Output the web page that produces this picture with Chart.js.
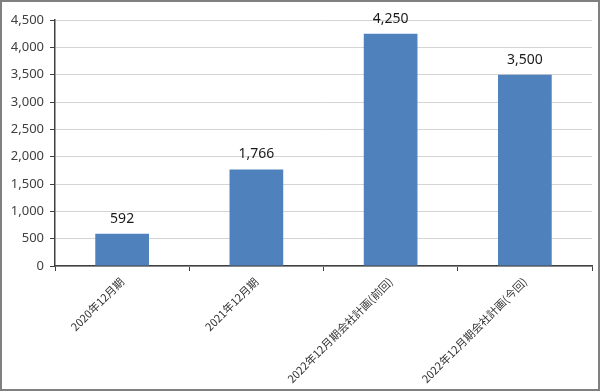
<!DOCTYPE html>
<html><head><meta charset="utf-8">
<script src="https://cdn.jsdelivr.net/npm/chart.js@4/dist/chart.umd.min.js"></script>
<style>html,body{margin:0;padding:0;background:#fff}#wrap{width:600px;height:391px;position:relative}</style>
</head><body><div id="wrap"><canvas id="c" width="600" height="391"></canvas></div>
<script>
const categories = ["2020年12月期","2021年12月期","2022年12月期会社計画(前回)","2022年12月期会社計画(今回)"];
const values = [592, 1766, 4250, 3500];
const yMin = 0, yMax = 4500, yStep = 500;

const fmt = v => v.toLocaleString('en-US');

const labelPlugin = {
  id: 'valLabels',
  afterDatasetsDraw(chart) {
    const ctx = chart.ctx;
    const meta = chart.getDatasetMeta(0);
    ctx.save();
    ctx.font = '14px "Noto Sans", sans-serif';
    ctx.fillStyle = '#1a1a1a';
    ctx.textAlign = 'center';
    ctx.textBaseline = 'bottom';
    meta.data.forEach((bar, i) => {
      ctx.fillText(fmt(values[i]), bar.x, bar.y - 8);
    });
    ctx.restore();
  },
  afterDraw(chart) {
    const ctx = chart.ctx;
    ctx.save();
    ctx.strokeStyle = '#808080';
    ctx.lineWidth = 2;
    ctx.strokeRect(1, 1, chart.width - 2, chart.height - 2);
    ctx.restore();
  }
};

new Chart(document.getElementById('c'), {
  type: 'bar',
  data: {
    labels: categories,
    datasets: [{
      data: values,
      backgroundColor: '#4f81bd',
      borderWidth: 0,
      categoryPercentage: 1.0,
      barPercentage: 0.4
    }]
  },
  options: {
    responsive: false,
    animation: false,
    devicePixelRatio: 1,
    layout: { padding: { top: 20, right: 8, left: 0, bottom: 0 } },
    plugins: { legend: { display: false }, tooltip: { enabled: false } },
    scales: {
      x: {
        grid: { drawOnChartArea: false, tickLength: 5, tickColor: '#404040', offset: true },
        border: { color: '#404040', width: 1.5 },
        ticks: {
          autoSkip: false, minRotation: 45, maxRotation: 45, padding: 4,
          color: '#333',
          font: { family: '"Noto Sans CJK JP", sans-serif', size: 11 }
        },
        afterFit(s) { s.height = 125; }
      },
      y: {
        min: yMin, max: yMax,
        grid: { color: '#d4d4d4', lineWidth: 1, tickLength: 5, tickColor: '#404040' },
        border: { color: '#404040', width: 1.5 },
        ticks: {
          stepSize: yStep, color: '#404040', padding: 6,
          font: { family: '"Noto Sans", sans-serif', size: 13 },
          callback: v => fmt(v)
        },
        afterFit(s) { s.width = 55; }
      }
    }
  },
  plugins: [labelPlugin]
});
</script></body></html>
